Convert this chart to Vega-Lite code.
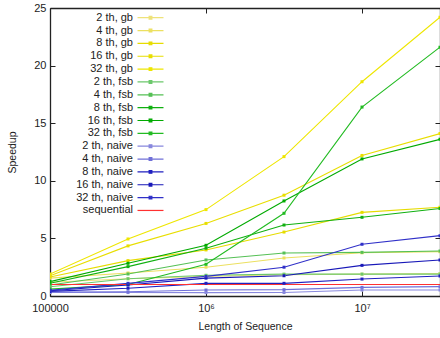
{
  "$schema": "https://vega.github.io/schema/vega-lite/v6.json",
  "width": 390,
  "height": 288,
  "autosize": "none",
  "padding": {"left": 50, "top": 8, "right": 0, "bottom": 42},
  "background": "white",
  "config": {
    "view": {"stroke": null},
    "font": "Liberation Sans",
    "axis": {
      "grid": false,
      "domainColor": "#222",
      "domainWidth": 1.3,
      "tickColor": "#222",
      "labelColor": "#222",
      "titleColor": "#222",
      "labelFont": "Liberation Sans",
      "titleFont": "Liberation Sans",
      "labelFontSize": 11,
      "titleFontSize": 10.5,
      "titleFontWeight": "normal",
      "tickSize": -5
    }
  },
  "data": {
    "values": [
      {"n": 100000, "v": 1.2, "s": "2 th, gb"},
      {"n": 316228, "v": 1.5, "s": "2 th, gb"},
      {"n": 1000000, "v": 1.7, "s": "2 th, gb"},
      {"n": 3162278, "v": 1.85, "s": "2 th, gb"},
      {"n": 10000000, "v": 1.9, "s": "2 th, gb"},
      {"n": 31622777, "v": 1.95, "s": "2 th, gb"},
      {"n": 100000, "v": 1.55, "s": "4 th, gb"},
      {"n": 316228, "v": 2.0, "s": "4 th, gb"},
      {"n": 1000000, "v": 2.5, "s": "4 th, gb"},
      {"n": 3162278, "v": 3.3, "s": "4 th, gb"},
      {"n": 10000000, "v": 3.75, "s": "4 th, gb"},
      {"n": 31622777, "v": 3.85, "s": "4 th, gb"},
      {"n": 100000, "v": 1.65, "s": "8 th, gb"},
      {"n": 316228, "v": 3.07, "s": "8 th, gb"},
      {"n": 1000000, "v": 4.0, "s": "8 th, gb"},
      {"n": 3162278, "v": 5.55, "s": "8 th, gb"},
      {"n": 10000000, "v": 7.26, "s": "8 th, gb"},
      {"n": 31622777, "v": 7.7, "s": "8 th, gb"},
      {"n": 100000, "v": 1.75, "s": "16 th, gb"},
      {"n": 316228, "v": 4.35, "s": "16 th, gb"},
      {"n": 1000000, "v": 6.3, "s": "16 th, gb"},
      {"n": 3162278, "v": 8.75, "s": "16 th, gb"},
      {"n": 10000000, "v": 12.2, "s": "16 th, gb"},
      {"n": 31622777, "v": 14.1, "s": "16 th, gb"},
      {"n": 100000, "v": 1.9, "s": "32 th, gb"},
      {"n": 316228, "v": 4.95, "s": "32 th, gb"},
      {"n": 1000000, "v": 7.5, "s": "32 th, gb"},
      {"n": 3162278, "v": 12.1, "s": "32 th, gb"},
      {"n": 10000000, "v": 18.6, "s": "32 th, gb"},
      {"n": 31622777, "v": 24.2, "s": "32 th, gb"},
      {"n": 100000, "v": 0.8, "s": "2 th, fsb"},
      {"n": 316228, "v": 1.5, "s": "2 th, fsb"},
      {"n": 1000000, "v": 1.8, "s": "2 th, fsb"},
      {"n": 3162278, "v": 1.9, "s": "2 th, fsb"},
      {"n": 10000000, "v": 1.9, "s": "2 th, fsb"},
      {"n": 31622777, "v": 1.9, "s": "2 th, fsb"},
      {"n": 100000, "v": 0.95, "s": "4 th, fsb"},
      {"n": 316228, "v": 1.91, "s": "4 th, fsb"},
      {"n": 1000000, "v": 3.13, "s": "4 th, fsb"},
      {"n": 3162278, "v": 3.73, "s": "4 th, fsb"},
      {"n": 10000000, "v": 3.79, "s": "4 th, fsb"},
      {"n": 31622777, "v": 3.9, "s": "4 th, fsb"},
      {"n": 100000, "v": 1.1, "s": "8 th, fsb"},
      {"n": 316228, "v": 2.55, "s": "8 th, fsb"},
      {"n": 1000000, "v": 4.15, "s": "8 th, fsb"},
      {"n": 3162278, "v": 6.16, "s": "8 th, fsb"},
      {"n": 10000000, "v": 6.83, "s": "8 th, fsb"},
      {"n": 31622777, "v": 7.6, "s": "8 th, fsb"},
      {"n": 100000, "v": 1.25, "s": "16 th, fsb"},
      {"n": 316228, "v": 2.84, "s": "16 th, fsb"},
      {"n": 1000000, "v": 4.4, "s": "16 th, fsb"},
      {"n": 3162278, "v": 8.25, "s": "16 th, fsb"},
      {"n": 10000000, "v": 11.9, "s": "16 th, fsb"},
      {"n": 31622777, "v": 13.6, "s": "16 th, fsb"},
      {"n": 100000, "v": 0.6, "s": "32 th, fsb"},
      {"n": 316228, "v": 1.0, "s": "32 th, fsb"},
      {"n": 1000000, "v": 2.75, "s": "32 th, fsb"},
      {"n": 3162278, "v": 7.18, "s": "32 th, fsb"},
      {"n": 10000000, "v": 16.4, "s": "32 th, fsb"},
      {"n": 31622777, "v": 21.6, "s": "32 th, fsb"},
      {"n": 100000, "v": 0.3, "s": "2 th, naive"},
      {"n": 316228, "v": 0.3, "s": "2 th, naive"},
      {"n": 1000000, "v": 0.29, "s": "2 th, naive"},
      {"n": 3162278, "v": 0.3, "s": "2 th, naive"},
      {"n": 10000000, "v": 0.52, "s": "2 th, naive"},
      {"n": 31622777, "v": 0.52, "s": "2 th, naive"},
      {"n": 100000, "v": 0.35, "s": "4 th, naive"},
      {"n": 316228, "v": 0.37, "s": "4 th, naive"},
      {"n": 1000000, "v": 0.52, "s": "4 th, naive"},
      {"n": 3162278, "v": 0.55, "s": "4 th, naive"},
      {"n": 10000000, "v": 0.75, "s": "4 th, naive"},
      {"n": 31622777, "v": 0.81, "s": "4 th, naive"},
      {"n": 100000, "v": 0.4, "s": "8 th, naive"},
      {"n": 316228, "v": 0.67, "s": "8 th, naive"},
      {"n": 1000000, "v": 1.1, "s": "8 th, naive"},
      {"n": 3162278, "v": 1.1, "s": "8 th, naive"},
      {"n": 10000000, "v": 1.47, "s": "8 th, naive"},
      {"n": 31622777, "v": 1.74, "s": "8 th, naive"},
      {"n": 100000, "v": 0.45, "s": "16 th, naive"},
      {"n": 316228, "v": 0.95, "s": "16 th, naive"},
      {"n": 1000000, "v": 1.55, "s": "16 th, naive"},
      {"n": 3162278, "v": 1.76, "s": "16 th, naive"},
      {"n": 10000000, "v": 2.66, "s": "16 th, naive"},
      {"n": 31622777, "v": 3.13, "s": "16 th, naive"},
      {"n": 100000, "v": 0.5, "s": "32 th, naive"},
      {"n": 316228, "v": 1.1, "s": "32 th, naive"},
      {"n": 1000000, "v": 1.7, "s": "32 th, naive"},
      {"n": 3162278, "v": 2.5, "s": "32 th, naive"},
      {"n": 10000000, "v": 4.49, "s": "32 th, naive"},
      {"n": 31622777, "v": 5.24, "s": "32 th, naive"},
      {"n": 100000, "v": 1.0, "s": "sequential"},
      {"n": 316228, "v": 1.0, "s": "sequential"},
      {"n": 1000000, "v": 1.0, "s": "sequential"},
      {"n": 3162278, "v": 1.0, "s": "sequential"},
      {"n": 10000000, "v": 1.0, "s": "sequential"},
      {"n": 31622777, "v": 1.0, "s": "sequential"}
    ]
  },
  "layer": [
    {
      "mark": {"type": "line", "strokeWidth": 1.1, "clip": true},
      "encoding": {
        "x": {
          "field": "n", "type": "quantitative",
          "scale": {"type": "log", "domain": [100000, 31622777], "nice": false},
          "axis": {
            "values": [100000, 1000000, 10000000],
            "labelExpr": "datum.value == 100000 ? '100000' : (datum.value == 1000000 ? '10⁶' : '10⁷')",
            "title": "Length of Sequence",
            "labelPadding": 11,
            "titlePadding": 8,
            "labelFlush": false
          }
        },
        "y": {
          "field": "v", "type": "quantitative",
          "scale": {"domain": [0, 25], "nice": false},
          "axis": {
            "values": [0, 5, 10, 15, 20, 25],
            "title": "Speedup",
            "labelPadding": 9,
            "titlePadding": 16
          }
        },
        "color": {
          "field": "s", "type": "nominal",
          "scale": {
            "domain": ["2 th, gb", "4 th, gb", "8 th, gb", "16 th, gb", "32 th, gb", "2 th, fsb", "4 th, fsb", "8 th, fsb", "16 th, fsb", "32 th, fsb", "2 th, naive", "4 th, naive", "8 th, naive", "16 th, naive", "32 th, naive", "sequential"],
            "range": ["#eee27a", "#ece060", "#e6dc00", "#e8de00", "#eee600", "#6cc86c", "#55c055", "#10b010", "#00aa00", "#22bb22", "#8888dd", "#7070d8", "#2020c0", "#1818b8", "#3030c8", "#ff3030"]
          },
          "legend": {
            "orient": "none",
            "legendX": 95,
            "legendY": 4.2,
            "title": null,
            "padding": 0,
            "labelAlign": "right",
            "labelOffset": -23,
            "labelFont": "Liberation Sans",
            "labelFontSize": 11,
            "labelColor": "#222",
            "symbolType": "M-4.33,0H4.33M-0.45,-0.45H0.45V0.45H-0.45Z",
            "symbolSize": 36,
            "symbolStrokeWidth": 1.2,
            "rowPadding": 0.85,
            "labelLimit": 200,
            "encode": {
              "symbols": {
                "update": {
                  "fill": {"scale": "color", "field": "value"},
                  "stroke": {"scale": "color", "field": "value"},
                  "opacity": {"value": 1},
                  "shape": {"signal": "datum.value === 'sequential' ? 'M-4.33,0H4.33' : 'M-4.33,0H4.33M-0.45,-0.45H0.45V0.45H-0.45Z'"}
                }
              }
            }
          }
        },
        "detail": {"field": "s"}
      }
    },
    {
      "transform": [{"filter": "datum.s !== 'sequential'"}],
      "mark": {"type": "point", "shape": "square", "filled": true, "size": 9, "opacity": 1, "clip": true},
      "encoding": {
        "x": {
          "field": "n", "type": "quantitative",
          "axis": {"orient": "top", "values": [100000, 1000000, 10000000], "labels": false, "title": null}
        },
        "y": {
          "field": "v", "type": "quantitative",
          "axis": {"orient": "right", "values": [0, 5, 10, 15, 20, 25], "labels": false, "title": null}
        },
        "color": {"field": "s", "type": "nominal"}
      }
    }
  ],
  "resolve": {"axis": {"x": "independent", "y": "independent"}}
}
